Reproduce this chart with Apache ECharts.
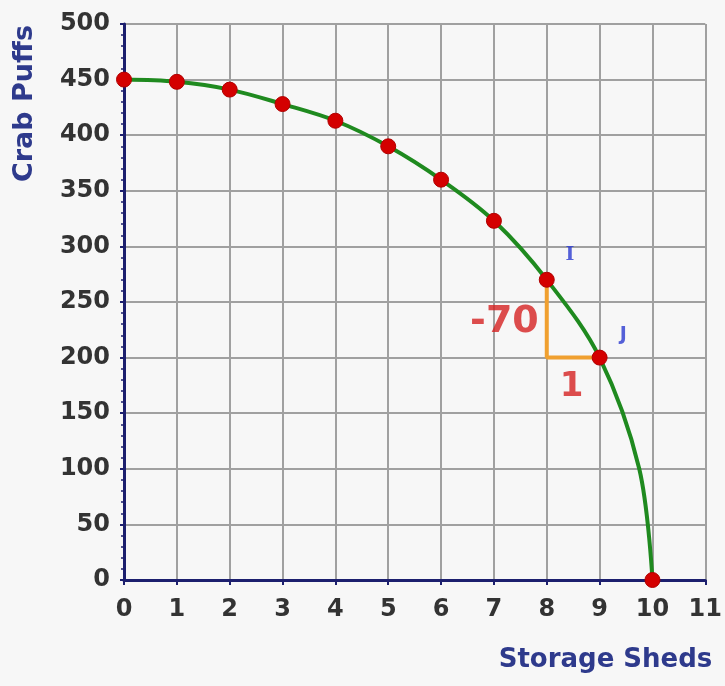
<!DOCTYPE html>
<html><head><meta charset="utf-8">
<script src="https://cdn.jsdelivr.net/npm/echarts@6/dist/echarts.min.js"></script>
<style>html,body{margin:0;padding:0;background:#f7f7f7;}#c{width:725px;height:686px;}</style>
</head><body><div id="c"></div>
<script>
// marked points
const sheds = [0,1,2,3,4,5,6,7,8,9,10];
const crabPuffs = [450,448,441,428,413,390,360,323,270,200,0];
// points (incl. one between the last two markers)
const curveX = [0,1,2,3,4,5,6,7,8,9,9.75,10];
const curveY = [450,448,441,428,413,390,360,323,270,200,100,0];
const xTicks = [0,1,2,3,4,5,6,7,8,9,10,11];
const yTicks = [0,50,100,150,200,250,300,350,400,450,500];
const slopeLegs = [[8,270],[8,200],[9,200]];
const pointLabels = [{name:'I',x:8.44,y:292},{name:'J',x:9.45,y:220}];
const riseLabel = {text:'-70', x:8, y:232};
const runLabel = {text:'1', x:8.47, y:173};

const chart = echarts.init(document.getElementById('c'));
chart.setOption({
  backgroundColor:'#f7f7f7',
  animation:false,
  grid:{left:124,right:17,top:24,bottom:106},
  xAxis:{type:'value',min:0,max:11,interval:1,
    name:'Storage Sheds',nameLocation:'end',nameGap:7,
    nameTextStyle:{color:'#2e3a8c',fontWeight:'bold',fontSize:26,fontFamily:'DejaVu Sans',align:'right',verticalAlign:'top',padding:[67,0,0,0]},
    axisLine:{lineStyle:{color:'#1c1f6e',width:3}},
    axisTick:{show:true,length:5,lineStyle:{color:'#1c1f6e',width:2}},
    axisLabel:{color:'#333',fontWeight:'bold',fontSize:24,fontFamily:'DejaVu Sans',margin:18,
      formatter:v=>xTicks.includes(v)?String(v):''},
    splitLine:{show:true,lineStyle:{color:'#a0a0a0',width:2}}
  },
  yAxis:{type:'value',min:0,max:500,interval:50,
    name:'Crab Puffs',nameLocation:'end',nameRotate:90,nameGap:-1,
    nameTextStyle:{color:'#2e3a8c',fontWeight:'bold',fontSize:27,fontFamily:'DejaVu Sans',align:'right',verticalAlign:'bottom',padding:[0,0,86,0]},
    axisLine:{show:true,lineStyle:{color:'#1c1f6e',width:3}},
    axisTick:{show:true,length:4,lineStyle:{color:'#1c1f6e',width:2}},
    minorTick:{show:true,splitNumber:5,length:3,lineStyle:{color:'#1c1f6e',width:1.5}},
    axisLabel:{color:'#333',fontWeight:'bold',fontSize:24,fontFamily:'DejaVu Sans',margin:14,
      formatter:v=>yTicks.includes(v)?String(v):''},
    splitLine:{show:true,lineStyle:{color:'#a0a0a0',width:2}}
  },
  series:[
    {type:'line',data:slopeLegs,symbol:'none',lineStyle:{color:'#f0a030',width:4},z:2,silent:true},
    {type:'line',data:curveX.map((x,i)=>[x,curveY[i]]),smooth:0.35,symbol:'none',
      lineStyle:{color:'#1f8a1f',width:4},z:3,silent:true},
    {type:'scatter',data:sheds.map((s,i)=>[s,crabPuffs[i]]),
      symbol:'circle',symbolSize:15,
      itemStyle:{color:'#d40000',borderColor:'#b00000',borderWidth:1,opacity:1},z:5},
    {type:'scatter',symbolSize:0,z:6,silent:true,
      data:pointLabels.map(p=>({value:[p.x,p.y],label:{show:true,formatter:p.name,position:'inside',color:'#2a3ad0',fontWeight:'bold',fontSize:19,fontFamily:p.name==='I'?'DejaVu Serif':'DejaVu Sans'}}))},
    {type:'scatter',symbolSize:0,z:6,silent:true,
      data:[
        {value:[riseLabel.x,riseLabel.y],label:{show:true,formatter:riseLabel.text,position:'left',distance:8,color:'#d42020',fontWeight:'bold',fontSize:38,fontFamily:'DejaVu Sans'}},
        {value:[runLabel.x,runLabel.y],label:{show:true,formatter:runLabel.text,position:'inside',color:'#d42020',fontWeight:'bold',fontSize:34,fontFamily:'DejaVu Sans'}}
      ]}
  ]
});
</script></body></html>
